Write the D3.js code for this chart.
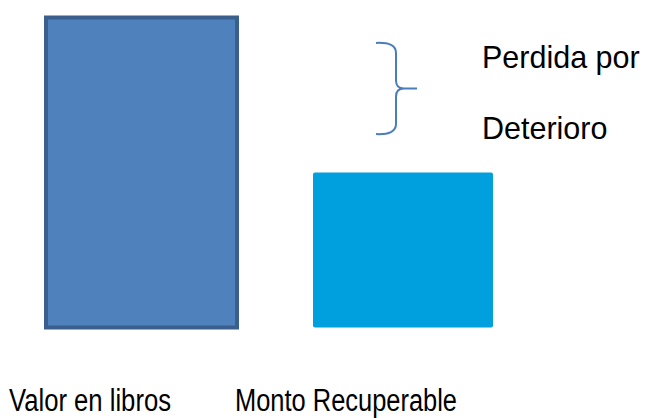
<!DOCTYPE html>
<html>
<head>
<meta charset="utf-8">
<script src="https://cdn.jsdelivr.net/npm/d3@7"></script>
<style>
  html, body { margin: 0; padding: 0; background: #ffffff; }
  svg { display: block; }
  text { font-family: "Liberation Sans", Arial, sans-serif; fill: #000; }
</style>
</head>
<body>
<svg id="chart" width="650" height="418"></svg>
<script>
// Book value versus recoverable amount (impairment loss illustration)
const categories = ["Valor en libros", "Monto Recuperable"];
const values = [100, 50];
const lossLabel = ["Perdida por", "Deterioro"];

const width = 650, height = 418;
const svg = d3.select("#chart");

const x = d3.scaleBand()
  .domain(categories)
  .range([10.75, 533.75])
  .padding(0);

const y = d3.scaleLinear()
  .domain([0, 100])
  .range([327.5, 17.5]);

// per-bar look
const barStyle = [
  { width: 191, fill: "#4f81bd", stroke: "#3a5f8d", strokeWidth: 4, rx: 0 },
  { width: 180, fill: "#00a0df", stroke: "none", strokeWidth: 0, rx: 2 }
];

const bars = categories.map((c, i) => ({ cat: c, value: values[i], style: barStyle[i] }));

svg.selectAll("rect.bar")
  .data(bars)
  .join("rect")
  .attr("class", "bar")
  .attr("x", d => x(d.cat) + x.bandwidth() / 2 - d.style.width / 2)
  .attr("y", d => y(d.value))
  .attr("width", d => d.style.width)
  .attr("height", d => y(0) - y(d.value))
  .attr("rx", d => d.style.rx)
  .attr("fill", d => d.style.fill)
  .attr("stroke", d => d.style.stroke)
  .attr("stroke-width", d => d.style.strokeWidth);

// category labels under the bars
const labelStyle = [
  { dx: -132.5, length: 162 },
  { dx: -168, length: 222 }
];
svg.selectAll("text.cat")
  .data(categories)
  .join("text")
  .attr("class", "cat")
  .attr("x", (d, i) => x(d) + x.bandwidth() / 2 + labelStyle[i].dx)
  .attr("y", 410.5)
  .attr("font-size", 31)
  .attr("textLength", (d, i) => labelStyle[i].length)
  .attr("lengthAdjust", "spacingAndGlyphs")
  .text(d => d);

// curly brace marking the impairment loss
const braceTop = y(91.8), braceBottom = y(62.4);
const braceMid = (braceTop + braceBottom) / 2;
const bx0 = 376, bx1 = 396, bTip = 404, bEnd = 417;
const brace = d3.path();
brace.moveTo(bx0, braceTop);
brace.quadraticCurveTo(bx1, braceTop - 1, bx1, braceTop + 10);
brace.lineTo(bx1, braceMid - 8);
brace.quadraticCurveTo(bx1, braceMid, bTip, braceMid);
brace.quadraticCurveTo(bx1, braceMid, bx1, braceMid + 8);
brace.lineTo(bx1, braceBottom - 10);
brace.quadraticCurveTo(bx1, braceBottom + 1, bx0, braceBottom);
brace.moveTo(bTip, braceMid);
brace.lineTo(bEnd, braceMid);

svg.append("path")
  .attr("d", brace.toString())
  .attr("fill", "none")
  .attr("stroke", "#4a7ebb")
  .attr("stroke-width", 2);

svg.selectAll("text.loss")
  .data(lossLabel)
  .join("text")
  .attr("class", "loss")
  .attr("x", 482)
  .attr("y", (d, i) => i === 0 ? 68 : 139)
  .attr("font-size", 30.5)
  .text(d => d);
</script>
</body>
</html>
